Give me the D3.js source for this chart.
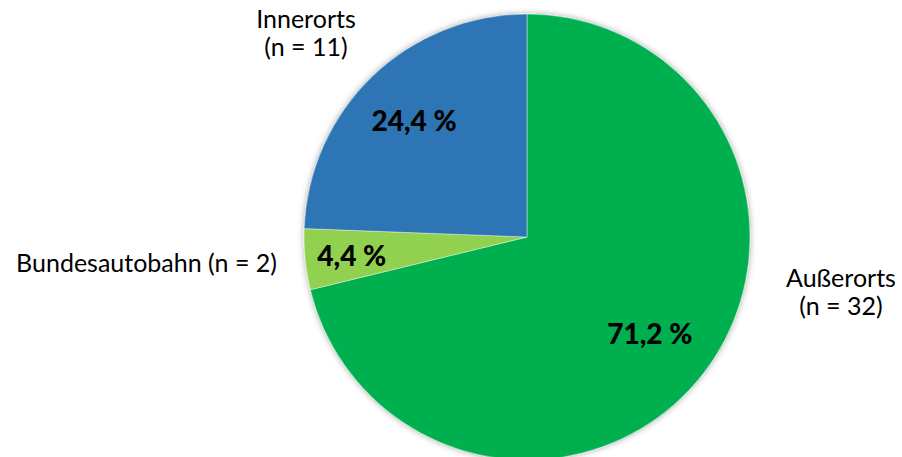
<!DOCTYPE html>
<html><head><meta charset="utf-8">
<script src="https://cdn.jsdelivr.net/npm/d3@7"></script>
<style>body{margin:0;background:#fff;}svg{display:block;}</style>
</head><body>
<svg id="c" width="902" height="457"></svg>
<script>
const categories = ["Außerorts", "Bundesautobahn", "Innerorts"];
const counts = [32, 2, 11];
const percents = [71.2, 4.4, 24.4];
const colors = ["#00B050", "#92D050", "#2E75B6"];

const svg = d3.select("#c");
const cx = 527, cy = 237, R = 223;

const defs = svg.append("defs");
const f = defs.append("filter").attr("id","sh").attr("x","-20%").attr("y","-20%").attr("width","140%").attr("height","140%");
f.append("feDropShadow").attr("dx",0).attr("dy",0).attr("stdDeviation",3).attr("flood-color","#000").attr("flood-opacity",0.35);

const pie = d3.pie().sort(null).value(d => d)(percents);
const arc = d3.arc().innerRadius(0).outerRadius(R);
const g = svg.append("g").attr("transform", `translate(${cx},${cy})`);

g.append("g").attr("filter","url(#sh)").selectAll("path").data(pie).join("path")
  .attr("d", arc).attr("fill", (d,i) => colors[i])
  .attr("stroke","#ffffff").attr("stroke-opacity",0.5).attr("stroke-width",0.8);

const fmt = v => d3.format(".1f")(v).replace(".", ",") + " %";

// percent labels inside
const inR = [0.70, 0.79, 0.73];
g.selectAll("text.pct").data(pie).join("text").attr("class","pct")
  .attr("transform", (d,i) => {
    const c = d3.arc().innerRadius(R*inR[i]).outerRadius(R*inR[i]).centroid(d);
    return `translate(${c[0]},${c[1]})`;
  })
  .attr("text-anchor","middle").attr("dominant-baseline","central")
  .style("font-family","Lato, 'Open Sans', sans-serif").style("font-weight","900")
  .style("font-size","28px").attr("fill","#000")
  .text((d,i) => fmt(percents[i]));

// outside labels
const lbl = [
  {x: 841, y: 287, anchor: "middle", lines: [categories[0], `(n = ${counts[0]})`]},
  {x: 277, y: 272, anchor: "end", lines: [`${categories[1]} (n = ${counts[1]})`]},
  {x: 306, y: 28, anchor: "middle", lines: [categories[2], `(n = ${counts[2]})`]}
];
lbl.forEach(l => {
  const t = svg.append("text").attr("x", l.x).attr("y", l.y).attr("text-anchor", l.anchor)
    .style("font-family","Lato, 'Open Sans', sans-serif").style("font-size","25px").attr("fill","#000");
  l.lines.forEach((s,k) => t.append("tspan").attr("x", l.x).attr("dy", k === 0 ? 0 : 28).text(s));
});
</script>
</body></html>
